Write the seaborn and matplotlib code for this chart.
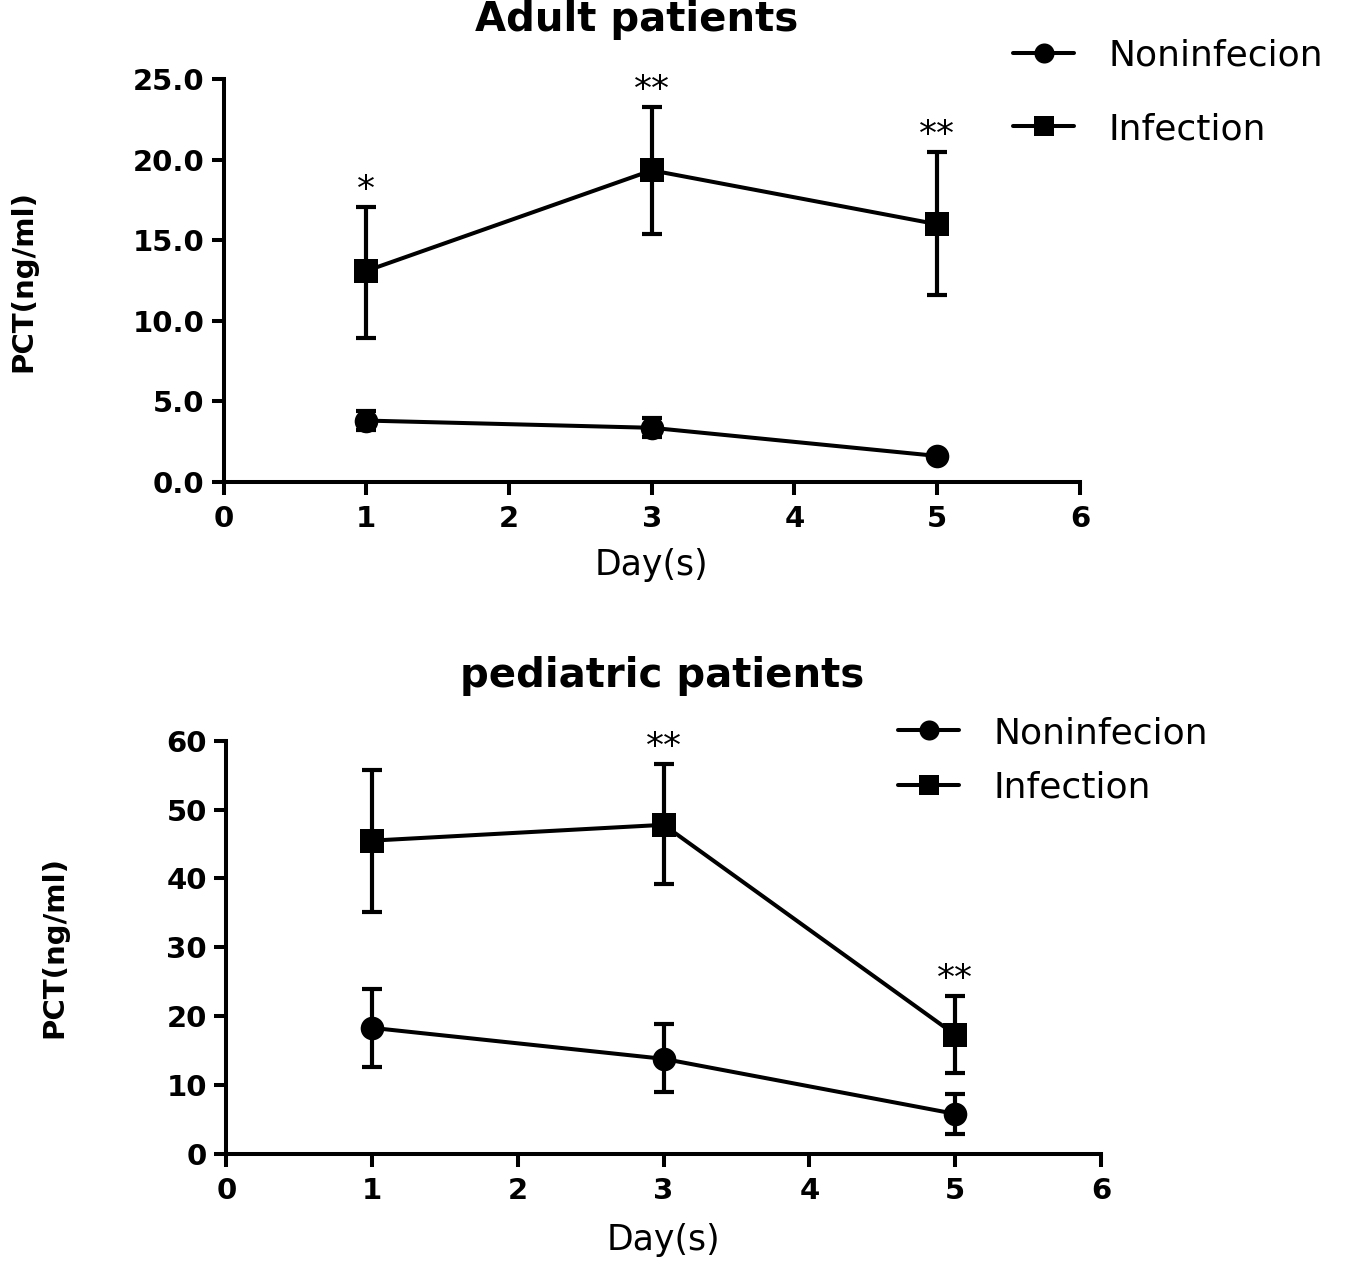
import matplotlib
matplotlib.use("Agg")
import matplotlib.pyplot as plt
import seaborn as sns
import pandas as pd

sns.set_style("ticks")
plt.rcParams['font.family'] = ['DejaVu Sans']
for key in ['text.color', 'axes.labelcolor', 'xtick.color', 'ytick.color', 'axes.edgecolor']:
    plt.rcParams[key] = 'black'

days = [1, 3, 5]
groups = ["Noninfecion", "Infection"]

# adult patients
adult_non = [3.8, 3.35, 1.6]
adult_non_lo = [3.2, 2.75, 1.5]
adult_non_hi = [4.4, 3.95, 1.7]
adult_inf = [13.1, 19.35, 16.0]
adult_inf_lo = [8.9, 15.4, 11.6]
adult_inf_hi = [17.1, 23.3, 20.5]
adult_stars = ["*", "**", "**"]

# pediatric patients
ped_non = [18.3, 13.8, 5.8]
ped_non_lo = [12.6, 9.0, 2.9]
ped_non_hi = [24.0, 18.9, 8.7]
ped_inf = [45.5, 47.8, 17.3]
ped_inf_lo = [35.2, 39.2, 11.8]
ped_inf_hi = [55.8, 56.7, 23.0]
ped_stars = ["", "**", "**"]

fig = plt.figure(figsize=(13.55, 12.61), dpi=100)
ax1 = fig.add_axes([0.165, 0.618, 0.632, 0.319])
ax2 = fig.add_axes([0.167, 0.085, 0.6455, 0.3275])


def draw(ax, non, non_lo, non_hi, inf, inf_lo, inf_hi, stars, ymax, ystep, fmt, ylab_x, xlab_y):
    df = pd.DataFrame({
        "day": days * 2,
        "pct": non + inf,
        "group": [groups[0]] * 3 + [groups[1]] * 3,
    })
    sns.lineplot(data=df, x="day", y="pct", style="group", markers={groups[0]: "o", groups[1]: "s"},
                 dashes=False, color="black", linewidth=2.9, markersize=17,
                 markeredgecolor="black", markeredgewidth=0, ax=ax, legend=True)
    for vals, lo, hi in [(non, non_lo, non_hi), (inf, inf_lo, inf_hi)]:
        err = [[v - l for v, l in zip(vals, lo)], [h - v for v, h in zip(vals, hi)]]
        ax.errorbar(days, vals, yerr=err, fmt="none", ecolor="black", elinewidth=3,
                    capsize=7.5, capthick=3)
    for d, h, s in zip(days, inf_hi, stars):
        if s:
            ax.annotate(s, (d, h), xytext=(0, 5), textcoords="offset points",
                        ha="center", va="baseline", fontsize=26)
    ax.set_xlim(0, 6)
    ax.set_ylim(0, ymax)
    ax.set_xticks(range(0, 7))
    n = int(round(ymax / ystep)) + 1
    ax.set_yticks([ystep * i for i in range(n)])
    ax.set_yticklabels([fmt.format(ystep * i) for i in range(n)])
    for lab in ax.get_xticklabels() + ax.get_yticklabels():
        lab.set_fontweight("bold")
        lab.set_fontsize(21)
    ax.tick_params(width=2.9, length=9, direction="out", pad=5)
    ax.tick_params(axis="x", pad=8)
    for side in ["top", "right"]:
        ax.spines[side].set_visible(False)
    for side in ["left", "bottom"]:
        ax.spines[side].set_linewidth(2.9)
    ax.set_xlabel("Day(s)", fontsize=25)
    ax.xaxis.set_label_coords(0.5, xlab_y)
    ax.set_ylabel("PCT(ng/ml)", fontsize=21, fontweight="bold")
    ax.yaxis.set_label_coords(ylab_x, 0.5)
    for c in ax.get_children():
        try:
            c.set_clip_on(False)
        except Exception:
            pass


draw(ax1, adult_non, adult_non_lo, adult_non_hi, adult_inf, adult_inf_lo, adult_inf_hi,
     adult_stars, 25, 5, "{:.1f}", -0.217, -0.164)
draw(ax2, ped_non, ped_non_lo, ped_non_hi, ped_inf, ped_inf_lo, ped_inf_hi,
     ped_stars, 60, 10, "{:.0f}", -0.18, -0.167)

ax1.legend(title=None, frameon=False, loc="upper left",
           bbox_to_anchor=(1013 / 1355, 1 - 39 / 1261), bbox_transform=fig.transFigure,
           borderpad=0, borderaxespad=0, fontsize=26, handlelength=1.7,
           labelspacing=1.08, handletextpad=0.95, markerscale=0.85)
ax2.legend(title=None, frameon=False, loc="upper left",
           bbox_to_anchor=(898 / 1355, 1 - 716 / 1261), bbox_transform=fig.transFigure,
           borderpad=0, borderaxespad=0, fontsize=26, handlelength=1.7,
           labelspacing=0.58, handletextpad=0.95, markerscale=0.85)

fig.text(637 / 1355, 1 - 20 / 1261, "Adult patients", ha="center", va="center",
         fontsize=29, fontweight="bold")
fig.text(662 / 1355, 1 - 676 / 1261, "pediatric patients", ha="center", va="center",
         fontsize=29, fontweight="bold")

fig.savefig("out.png", dpi=100)
